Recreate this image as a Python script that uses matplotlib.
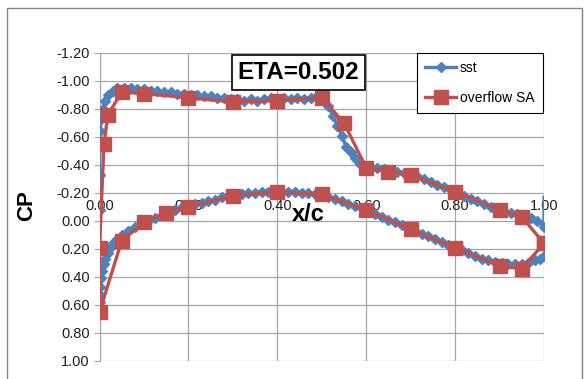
import matplotlib
matplotlib.use("Agg")
from matplotlib import pyplot as plt
from matplotlib.patches import Rectangle

plt.rcParams["font.family"] = ["Liberation Sans", "DejaVu Sans"]

ETA = 0.502

# sst: upper surface from trailing edge to leading edge
sst_upper_x = [1.00, 1.00, 0.985, 0.97, 0.955, 0.94, 0.925, 0.91, 0.895, 0.88, 0.865,
               0.85, 0.835, 0.82, 0.805, 0.79, 0.775, 0.76, 0.745, 0.73, 0.715,
               0.70, 0.685, 0.67, 0.655, 0.64, 0.625, 0.61, 0.595, 0.585, 0.575,
               0.565, 0.555, 0.545, 0.535, 0.525, 0.515, 0.505, 0.49, 0.475, 0.46,
               0.445, 0.43, 0.415, 0.40, 0.385, 0.37, 0.355, 0.34, 0.325, 0.31,
               0.295, 0.28, 0.265, 0.25, 0.235, 0.22, 0.205, 0.19, 0.175, 0.16,
               0.145, 0.13, 0.115, 0.10, 0.085, 0.07, 0.055, 0.04, 0.03, 0.02,
               0.013, 0.008, 0.004, 0.001, 0.0, 0.0]
sst_upper_cp = [-0.17, 0.04, 0.00, -0.02, -0.04, -0.05, -0.06, -0.07, -0.09, -0.10, -0.12,
                -0.14, -0.16, -0.18, -0.20, -0.22, -0.24, -0.26, -0.28, -0.30, -0.32,
                -0.33, -0.34, -0.35, -0.36, -0.37, -0.38, -0.38, -0.39, -0.41, -0.45,
                -0.49, -0.53, -0.61, -0.68, -0.75, -0.82, -0.86, -0.89, -0.88, -0.87,
                -0.88, -0.87, -0.88, -0.87, -0.88, -0.87, -0.86, -0.87, -0.86, -0.87,
                -0.87, -0.88, -0.88, -0.89, -0.89, -0.90, -0.90, -0.91, -0.91, -0.92,
                -0.92, -0.93, -0.93, -0.94, -0.94, -0.95, -0.95, -0.95, -0.93, -0.90,
                -0.86, -0.80, -0.73, -0.64, -0.33, -0.08]

# sst: lower surface from leading edge to trailing edge
sst_lower_x = [0.0, 0.001, 0.002, 0.004, 0.006, 0.009, 0.013, 0.018, 0.024, 0.03,
               0.04, 0.05, 0.065, 0.08, 0.095, 0.11, 0.125, 0.14, 0.155, 0.17,
               0.185, 0.20, 0.215, 0.23, 0.245, 0.26, 0.275, 0.29, 0.305, 0.32,
               0.335, 0.35, 0.365, 0.38, 0.395, 0.41, 0.425, 0.44, 0.455, 0.47,
               0.485, 0.50, 0.515, 0.53, 0.545, 0.56, 0.575, 0.59, 0.605, 0.62,
               0.635, 0.65, 0.665, 0.68, 0.695, 0.71, 0.725, 0.74, 0.755, 0.77,
               0.785, 0.80, 0.815, 0.83, 0.845, 0.86, 0.875, 0.89, 0.905, 0.92,
               0.935, 0.95, 0.965, 0.98, 0.99, 1.00]
sst_lower_cp = [0.58, 0.53, 0.47, 0.41, 0.36, 0.31, 0.27, 0.23, 0.19, 0.16,
                0.13, 0.10, 0.07, 0.04, 0.02, 0.00, -0.02, -0.04, -0.06, -0.08,
                -0.10, -0.11, -0.12, -0.13, -0.14, -0.15, -0.17, -0.18, -0.18, -0.19,
                -0.20, -0.20, -0.21, -0.21, -0.21, -0.21, -0.21, -0.21, -0.20, -0.20,
                -0.19, -0.18, -0.17, -0.16, -0.14, -0.12, -0.11, -0.09, -0.07, -0.05,
                -0.03, -0.01, 0.01, 0.03, 0.05, 0.07, 0.09, 0.11, 0.13, 0.15,
                0.17, 0.19, 0.21, 0.23, 0.25, 0.27, 0.28, 0.29, 0.30, 0.31,
                0.31, 0.31, 0.30, 0.28, 0.27, 0.25]

# overflow SA: one loop, trailing edge -> upper -> leading edge -> lower -> trailing edge
sa_x = [1.0, 0.95, 0.90, 0.80, 0.70, 0.65, 0.60, 0.55, 0.50, 0.40, 0.30, 0.20,
        0.10, 0.05, 0.019, 0.01, 0.0, 0.0, 0.05, 0.10, 0.15, 0.20, 0.30, 0.40,
        0.50, 0.60, 0.70, 0.80, 0.90, 0.95, 1.0]
sa_cp = [0.16, -0.03, -0.08, -0.21, -0.33, -0.35, -0.38, -0.70, -0.88, -0.86, -0.85, -0.88,
         -0.91, -0.92, -0.76, -0.55, 0.19, 0.65, 0.14, 0.01, -0.06, -0.10, -0.18, -0.21,
         -0.19, -0.08, 0.06, 0.19, 0.32, 0.34, 0.16]

x_ticks = [0.0, 0.2, 0.4, 0.6, 0.8, 1.0]
y_ticks = [-1.2, -1.0, -0.8, -0.6, -0.4, -0.2, 0.0, 0.2, 0.4, 0.6, 0.8, 1.0]

BLUE = "#4F81BD"
RED = "#C0504D"
GRID = "#A6A6A6"

fig = plt.figure(figsize=(5.84, 3.79), dpi=100)
ax = fig.add_axes([0.1704, 0.0475, 0.7611, 0.8127])

sst_x = sst_upper_x + sst_lower_x
sst_cp = sst_upper_cp + sst_lower_cp
# the first (spike) point carries no marker
ax.plot(sst_x, sst_cp, color=BLUE, lw=2.4, marker="D", markersize=5.5,
        markevery=list(range(1, len(sst_x))), label="sst", zorder=3)
ax.plot(sa_x, sa_cp, color=RED, lw=2.4, marker="s", markersize=10, label="overflow SA",
        zorder=4)

ax.set_xlim(0, 1)
ax.set_ylim(1.0, -1.2)
ax.set_xticks(x_ticks)
ax.set_yticks(y_ticks)
ax.xaxis.set_major_formatter(matplotlib.ticker.FormatStrFormatter("%.2f"))
ax.yaxis.set_major_formatter(matplotlib.ticker.FormatStrFormatter("%.2f"))
ax.grid(True, color=GRID, lw=0.9)
ax.set_axisbelow(True)

# x labels sit just above the Cp = 0 line
ax.xaxis.set_ticks_position("top")
ax.spines["top"].set_position(("data", 0))
for side in ["top", "bottom", "right"]:
    ax.spines[side].set_visible(False)
ax.spines["left"].set_color(GRID)
ax.tick_params(axis="x", length=0, pad=6, labelsize=10.5, colors="#202020")
ax.tick_params(axis="y", length=4, color=GRID, pad=3, labelsize=10.5, labelcolor="#202020")

ax.text(0.469, 0.474, "x/c", transform=ax.transAxes, ha="center", va="center",
        fontsize=17, fontweight="bold")
fig.text(27 / 584, 1 - 205.5 / 379, "CP", rotation=90, ha="center", va="center",
         fontsize=16, fontweight="bold")

fig.text(298.5 / 584, 1 - 72.5 / 379, "ETA=%.3f" % ETA, ha="center", va="center",
         fontsize=17.5, fontweight="bold",
         bbox=dict(boxstyle="square,pad=0.25", facecolor="white", edgecolor="black", lw=1.2))

leg = ax.legend(loc="upper left", bbox_to_anchor=(417 / 584, 1 - 53 / 379),
                bbox_transform=fig.transFigure, fontsize=10, fancybox=False,
                framealpha=1, edgecolor="black", handlelength=2.2, handletextpad=0.3,
                labelspacing=1.1, borderpad=0.6, borderaxespad=0)
leg.get_frame().set_linewidth(0.8)

# chart area border
fig.patches.append(Rectangle((7 / 584, -0.05), 575 / 584, 1.05 - 8 / 379,
                             transform=fig.transFigure, fill=False,
                             edgecolor="#868686", lw=1.0))

fig.savefig("out.png", dpi=100)
